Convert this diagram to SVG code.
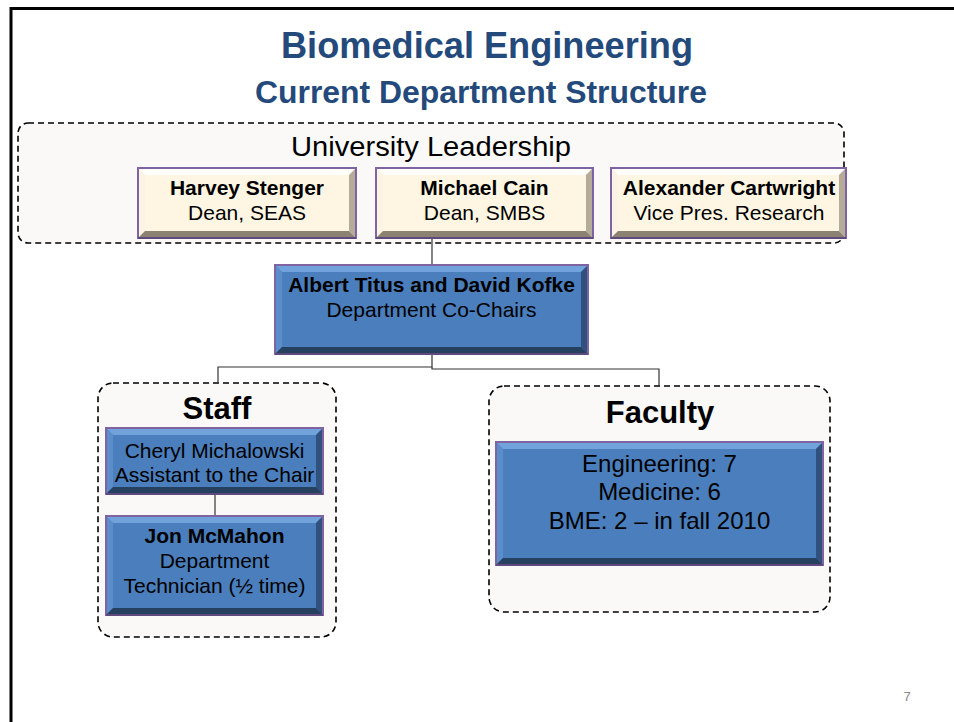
<svg xmlns="http://www.w3.org/2000/svg" width="954" height="722" viewBox="0 0 954 722">
<style>
.title{font-family:"Liberation Sans",Arial,sans-serif;font-weight:bold;fill:#244A7C;text-anchor:middle}
.grp{fill:#FAF9F8;stroke:#000;stroke-width:1.6;stroke-dasharray:6 4}
.gl{font-family:"Liberation Sans",Arial,sans-serif;fill:#000;text-anchor:middle}
.t{font-family:"Liberation Sans",Arial,sans-serif;font-size:21px;fill:#000;text-anchor:middle}
.f{font-size:24px}
.b{font-weight:bold}
.cream{fill:#FEF6E2;stroke:#8064A2;stroke-width:2}
.blue{fill:#4A7EBC;stroke:#8064A2;stroke-width:2}
.ct{fill:#FFFEFA}.cl{fill:#FBF4E4}.cr{fill:#B5AB98}.cb{fill:#8C8272}
.bt{fill:#72A2DC}.bl{fill:#5B8DCB}.br{fill:#30507D}.bb{fill:#26405F}
.edge{stroke:#5E4A7C;stroke-width:2}
.conn{fill:none;stroke:#333;stroke-width:1.2}
</style>
<g id="frame"><path d="M11,722 V8.5 H954" fill="none" stroke="#000" stroke-width="3"/></g>
<g id="titles">
<text class="title" x="487" y="58" font-size="37" textLength="412" lengthAdjust="spacingAndGlyphs">Biomedical Engineering</text>
<text class="title" x="481" y="103" font-size="31" textLength="452" lengthAdjust="spacingAndGlyphs">Current Department Structure</text>
</g>
<g id="leadership-group">
<rect class="grp" x="18" y="123" width="826" height="120" rx="10"/>
<text class="gl" x="431" y="156" font-size="27" textLength="280" lengthAdjust="spacingAndGlyphs">University Leadership</text>
</g>
<g id="staff-group">
<rect class="grp" x="98" y="383" width="238" height="254" rx="15"/>
<text class="gl b" x="217" y="419" font-size="31">Staff</text>
</g>
<g id="faculty-group">
<rect class="grp" x="489" y="386" width="341" height="226" rx="15"/>
<text class="gl b" x="660" y="423" font-size="31">Faculty</text>
</g>
<g id="connectors">
<path class="conn" d="M432,238 V265"/>
<path class="conn" d="M432,354 V367 H218 V383"/>
<path class="conn" d="M432,367 V369 H659 V386"/>
<path class="conn" d="M215,494 V516"/>
</g>
<g id="harvey">
<rect class="cream" x="138" y="168" width="218" height="70"/>
<polygon class="ct" points="139,169 355,169 349,175 145,175"/>
<polygon class="cl" points="139,169 145,175 145,231 139,237"/>
<polygon class="cr" points="355,169 355,237 349,231 349,175"/>
<polygon class="cb" points="139,237 355,237 349,231 145,231"/>
<line class="edge" x1="138" y1="238" x2="356" y2="238"/>
<text class="t b" x="247" y="195">Harvey Stenger</text>
<text class="t" x="247" y="220">Dean, SEAS</text>
</g>
<g id="michael">
<rect class="cream" x="376" y="168" width="217" height="70"/>
<polygon class="ct" points="377,169 592,169 586,175 383,175"/>
<polygon class="cl" points="377,169 383,175 383,231 377,237"/>
<polygon class="cr" points="592,169 592,237 586,231 586,175"/>
<polygon class="cb" points="377,237 592,237 586,231 383,231"/>
<line class="edge" x1="376" y1="238" x2="593" y2="238"/>
<text class="t b" x="484.5" y="195">Michael Cain</text>
<text class="t" x="484.5" y="220">Dean, SMBS</text>
</g>
<g id="alexander">
<rect class="cream" x="611" y="168" width="235" height="70"/>
<polygon class="ct" points="612,169 845,169 839,175 618,175"/>
<polygon class="cl" points="612,169 618,175 618,231 612,237"/>
<polygon class="cr" points="845,169 845,237 839,231 839,175"/>
<polygon class="cb" points="612,237 845,237 839,231 618,231"/>
<line class="edge" x1="611" y1="238" x2="846" y2="238"/>
<text class="t b" x="729" y="195">Alexander Cartwright</text>
<text class="t" x="729" y="220">Vice Pres. Research</text>
</g>
<g id="cochairs">
<rect class="blue" x="275" y="265" width="313" height="89"/>
<polygon class="bt" points="276,266 587,266 581,272 282,272"/>
<polygon class="bl" points="276,266 282,272 282,347 276,353"/>
<polygon class="br" points="587,266 587,353 581,347 581,272"/>
<polygon class="bb" points="276,353 587,353 581,347 282,347"/>
<line class="edge" x1="275" y1="354" x2="588" y2="354"/>
<text class="t b" x="431.5" y="292">Albert Titus and David Kofke</text>
<text class="t" x="431.5" y="317">Department Co-Chairs</text>
</g>
<g id="cheryl">
<rect class="blue" x="106" y="428" width="217" height="66"/>
<polygon class="bt" points="107,429 322,429 316,435 113,435"/>
<polygon class="bl" points="107,429 113,435 113,487 107,493"/>
<polygon class="br" points="322,429 322,493 316,487 316,435"/>
<polygon class="bb" points="107,493 322,493 316,487 113,487"/>
<line class="edge" x1="106" y1="494" x2="323" y2="494"/>
<text class="t" x="214.5" y="458">Cheryl Michalowski</text>
<text class="t" x="214.5" y="482">Assistant to the Chair</text>
</g>
<g id="jon">
<rect class="blue" x="106" y="516" width="217" height="99"/>
<polygon class="bt" points="107,517 322,517 316,523 113,523"/>
<polygon class="bl" points="107,517 113,523 113,608 107,614"/>
<polygon class="br" points="322,517 322,614 316,608 316,523"/>
<polygon class="bb" points="107,614 322,614 316,608 113,608"/>
<line class="edge" x1="106" y1="615" x2="323" y2="615"/>
<text class="t b" x="214.5" y="543">Jon McMahon</text>
<text class="t" x="214.5" y="568">Department</text>
<text class="t" x="214.5" y="593">Technician (½ time)</text>
</g>
<g id="faculty-box">
<rect class="blue" x="496" y="442" width="327" height="123"/>
<polygon class="bt" points="497,443 822,443 816,449 503,449"/>
<polygon class="bl" points="497,443 503,449 503,558 497,564"/>
<polygon class="br" points="822,443 822,564 816,558 816,449"/>
<polygon class="bb" points="497,564 822,564 816,558 503,558"/>
<line class="edge" x1="496" y1="565" x2="823" y2="565"/>
<text class="t f" x="659.5" y="472">Engineering: 7</text>
<text class="t f" x="659.5" y="500">Medicine: 6</text>
<text class="t f" x="659.5" y="529">BME: 2 – in fall 2010</text>
</g>
<g id="page-number">
<text x="907" y="701" font-family="Liberation Sans, Arial, sans-serif" font-size="13" fill="#8A8A8A" text-anchor="middle">7</text>
</g>
</svg>
